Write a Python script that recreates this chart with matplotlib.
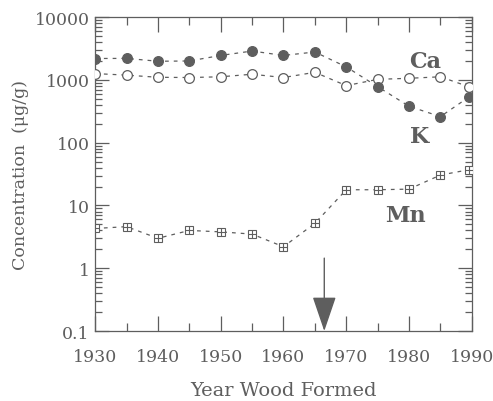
import matplotlib
matplotlib.use("Agg")
import matplotlib.pyplot as plt
from matplotlib.ticker import LogLocator, FixedLocator, NullFormatter

# data
years = [1930, 1935, 1940, 1945, 1950, 1955, 1960, 1965, 1970, 1975, 1980, 1985, 1989.5]
ca = [2190, 2200, 1980, 2000, 2450, 2880, 2450, 2780, 1610, 780, 380, 260, 530]
k = [1260, 1190, 1100, 1090, 1120, 1230, 1090, 1320, 810, 1020, 1060, 1120, 780]
mn = [4.3, 4.6, 3.0, 4.0, 3.8, 3.5, 2.2, 5.2, 17.8, 17.8, 18.2, 30.5, 37]
arrow_year = 1966.5

grey = "#5e5e5e"
plt.rcParams["font.family"] = ["DejaVu Serif"]

fig = plt.figure(figsize=(4.93, 4.02), dpi=100)
ax = fig.add_axes([0.193, 0.174, 0.764, 0.781])

dash = (0, (3, 4))
ax.plot(years, k, linestyle=dash, color=grey, lw=0.9, marker="o", ms=7,
        mfc="white", mec=grey, mew=0.9, zorder=3)
ax.plot(years, ca, linestyle=dash, color=grey, lw=0.9, marker="o", ms=7,
        mfc=grey, mec=grey, mew=0.9, zorder=4)
ax.plot(years, mn, linestyle=dash, color=grey, lw=0.9, marker="s", ms=6,
        mfc="white", mec=grey, mew=0.8, zorder=3)
ax.plot(years, mn, linestyle="none", marker="+", ms=6, mec=grey, mew=0.8, zorder=4)

ax.annotate("", xy=(arrow_year, 0.1), xytext=(arrow_year, 1.45),
            arrowprops=dict(arrowstyle="-|>,head_length=2.2,head_width=0.75",
                            color=grey, lw=1.0, shrinkA=0, shrinkB=0))

ax.text(1982.5, 2030, "Ca", fontsize=16, fontweight="bold", color=grey, ha="center", va="center")
ax.text(1981.7, 129, "K", fontsize=16, fontweight="bold", color=grey, ha="center", va="center")
ax.text(1979.5, 7.1, "Mn", fontsize=16, fontweight="bold", color=grey, ha="center", va="center")

ax.set_yscale("log")
ax.set_ylim(0.1, 10000)
ax.set_xlim(1930, 1990)
ax.xaxis.set_major_locator(FixedLocator([1930, 1940, 1950, 1960, 1970, 1980, 1990]))
ax.xaxis.set_minor_locator(FixedLocator([1935, 1945, 1955, 1965, 1975, 1985]))
ax.yaxis.set_minor_locator(LogLocator(base=10, subs=range(2, 10), numticks=10))
ax.yaxis.set_minor_formatter(NullFormatter())
ax.set_yticks([0.1, 1, 10, 100, 1000, 10000])
ax.set_yticklabels(["0.1", "1", "10", "100", "1000", "10000"])

ax.tick_params(which="both", direction="in", top=True, right=True, color=grey,
               labelcolor=grey, labelsize=12.5, width=0.9)
ax.tick_params(axis="x", which="major", length=11, pad=12)
ax.tick_params(axis="x", which="minor", length=6)
ax.tick_params(axis="y", which="major", length=10, pad=4)
ax.tick_params(axis="y", which="minor", length=5)
for s in ax.spines.values():
    s.set_color(grey)
    s.set_linewidth(0.9)

ax.set_xlabel("Year Wood Formed", fontsize=14, color=grey, labelpad=12)
ax.set_ylabel("Concentration  (\u03bcg/g)", fontsize=12.5, color=grey, labelpad=4)

fig.savefig("out.png", dpi=100)
